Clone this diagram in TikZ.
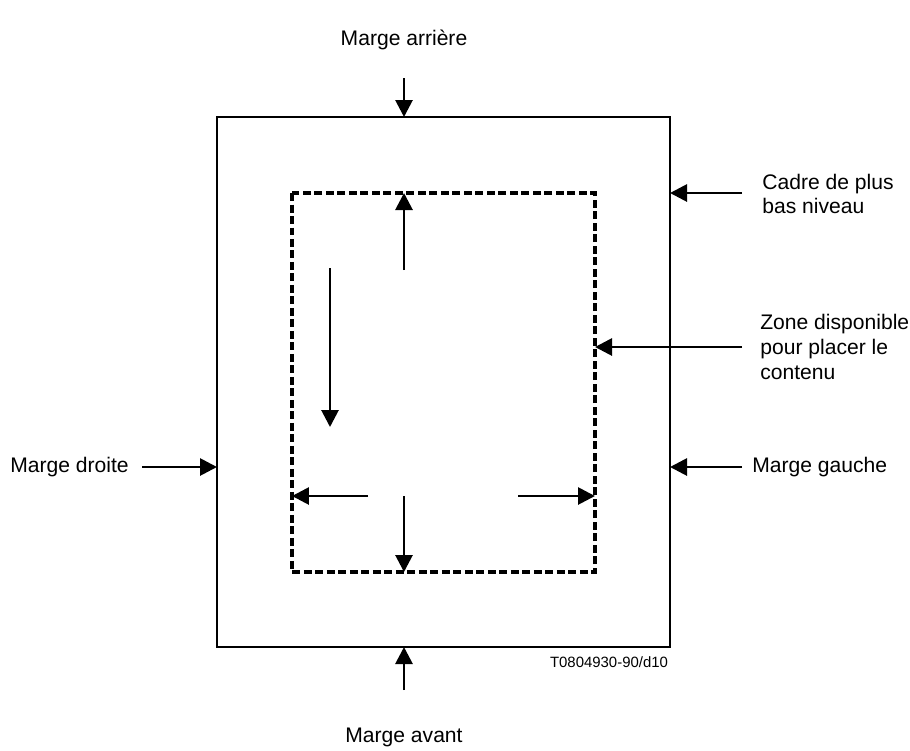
\documentclass[tikz,border=0pt]{standalone}
\usepackage{fontspec}
\setmainfont{Liberation Sans}
\usetikzlibrary{arrows.meta}
\tikzset{
  margin arrow/.style={
    -{Triangle[length=0.34cm, width=0.34cm]},
    line width=1.6pt
  },
  outer frame/.style={
    draw,
    line width=1.1pt
  },
  zone frame/.style={
    draw,
    line width=2pt,
    dash pattern=on 0.16cm off 0.07cm
  },
  label text/.style={
    font=\fontsize{12}{14}\selectfont,
    inner sep=0pt
  },
  ref text/.style={
    font=\fontsize{8.5}{10}\selectfont,
    inner sep=0pt
  }
}

\begin{document}
\begin{tikzpicture}[x=0.02cm, y=-0.02cm]
    \useasboundingbox (0,0) rectangle (910,751);

    % cadre extérieur et zone disponible
    \draw[outer frame] (217,117) rectangle (670,647);
    \draw[zone frame] (292,193) rectangle (595,572);

    % points d'arrivée sur les cadres
    \coordinate (TopIn) at (404,117);
    \coordinate (BotIn) at (404,647);
    \coordinate (LeftIn) at (217,467);
    \coordinate (RightIn) at (670,467);
    \coordinate (FrameIn) at (670,193);
    \coordinate (ZoneIn) at (595,347);

    % textes
    \node[label text] (Arriere) at (404,40) {Marge arrière};
    \node[label text] (Avant) at (404,737) {Marge avant};
    \node[label text, anchor=west] (Droite) at (10,467) {Marge droite};
    \node[label text, anchor=west] (Gauche) at (752,467) {Marge gauche};
    \node[label text, anchor=west, align=left] (Cadre) at (762,194) {Cadre de plus\\bas niveau};
    \node[label text, anchor=west, align=left] (Zone) at (760,347) {Zone disponible\\pour placer le\\contenu};
    \node[ref text] (Ref) at (609,662) {T0804930-90/d10};

    % flèches extérieures
    \coordinate (TopOut) at (404,78);
    \coordinate (BotOut) at (404,690);
    \coordinate (LeftOut) at (142,467);
    \coordinate (RightOut) at (742,467);
    \coordinate (FrameOut) at (742,193);
    \coordinate (ZoneOut) at (742,347);
    \draw[margin arrow] (TopOut) -- (TopIn);
    \draw[margin arrow] (BotOut) -- (BotIn);
    \draw[margin arrow] (LeftOut) -- (LeftIn);
    \draw[margin arrow] (RightOut) -- (RightIn);
    \draw[margin arrow] (FrameOut) -- (FrameIn);
    \draw[margin arrow] (ZoneOut) -- (ZoneIn);

    % flèches intérieures
    \coordinate (UpFrom) at (404,270);
    \coordinate (UpTo) at (404,193);
    \coordinate (FlowFrom) at (330,268);
    \coordinate (FlowTo) at (330,427);
    \coordinate (WestFrom) at (368,496);
    \coordinate (WestTo) at (292,496);
    \coordinate (SouthFrom) at (404,496);
    \coordinate (SouthTo) at (404,572);
    \coordinate (EastFrom) at (518,496);
    \coordinate (EastTo) at (595,496);
    \draw[margin arrow] (UpFrom) -- (UpTo);
    \draw[margin arrow] (FlowFrom) -- (FlowTo);
    \draw[margin arrow] (WestFrom) -- (WestTo);
    \draw[margin arrow] (SouthFrom) -- (SouthTo);
    \draw[margin arrow] (EastFrom) -- (EastTo);

\end{tikzpicture}
\end{document}
